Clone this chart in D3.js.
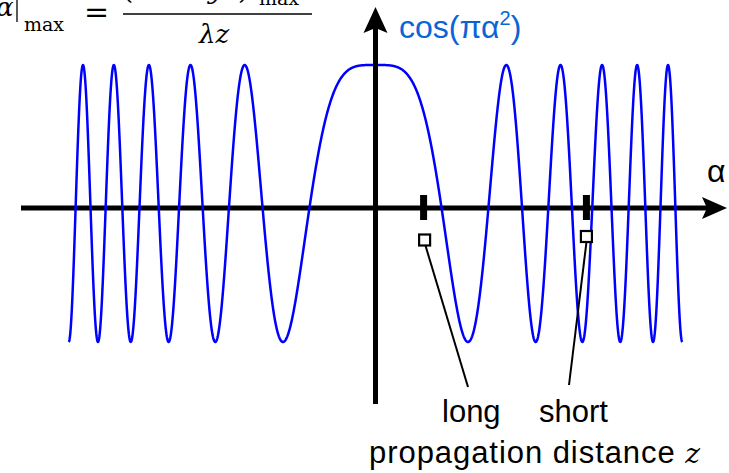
<!DOCTYPE html>
<html>
<head>
<meta charset="utf-8">
<script src="https://cdn.jsdelivr.net/npm/d3@7"></script>
<style>
  html, body { margin: 0; padding: 0; background: #fff; }
  svg { display: block; }
  .sans { font-family: "Liberation Sans", Arial, sans-serif; }
  .serif { font-family: "DejaVu Serif", "Liberation Serif", serif; }
</style>
</head>
<body>
<svg id="chart" width="729" height="473"></svg>
<script>
// Domain of the chirp cos(πα²): from the 11th trough on the left to the 11th on the right
const alphaDomain = [-3.3166, 3.3166];
const valueDomain = [-1, 1];
// Where the maximum α lands for the two propagation distances
const zLabels = ["long", "short"];
const zAlphaMax = [0.52, 2.28];
// Axis captions
const curveLabel = ["cos(πα", "2", ")"];
const axisLabel = "α";
const distanceLabel = ["propagation distance ", "z"];

const svg = d3.select("#chart");

const x = d3.scaleLinear().domain(alphaDomain).range([68.7, 682.3]);
const y = d3.scaleLinear().domain(valueDomain).range([342, 65]);

const axisY = 208, axisX = x(0);

// Curve samples along α
const step = (alphaDomain[1] - alphaDomain[0]) / 1600;
const samples = d3.range(alphaDomain[0], alphaDomain[1] + step / 2, step)
  .map(a => ({ a, v: Math.cos(Math.PI * a * a) }));

// horizontal α axis with arrow
svg.append("line")
  .attr("x1", 21).attr("x2", 708)
  .attr("y1", axisY).attr("y2", axisY)
  .attr("stroke", "#000").attr("stroke-width", 5);
svg.append("path")
  .attr("d", `M727,${axisY} L702,${axisY - 11} L707,${axisY} L702,${axisY + 11} Z`)
  .attr("fill", "#000");

// the chirp
svg.append("path")
  .datum(samples)
  .attr("fill", "none")
  .attr("stroke", "#0000ff")
  .attr("stroke-width", 2.5)
  .attr("stroke-linejoin", "round")
  .attr("d", d3.line().x(d => x(d.a)).y(d => y(d.v)));

// vertical axis with arrow
svg.append("line")
  .attr("x1", axisX).attr("x2", axisX)
  .attr("y1", 404).attr("y2", 28)
  .attr("stroke", "#000").attr("stroke-width", 5);
svg.append("path")
  .attr("d", `M${axisX},7 L${axisX - 12},33 L${axisX},28 L${axisX + 12},33 Z`)
  .attr("fill", "#000");

// α|max markers with leader lines
const markerY = [240, 236.5];
const labelAnchor = [[468, 387], [569, 385]];
zAlphaMax.forEach((am, i) => {
  const cx = x(am);
  svg.append("rect")
    .attr("x", cx - 3.5).attr("y", axisY - 13)
    .attr("width", 7).attr("height", 25)
    .attr("fill", "#000");
  svg.append("line")
    .attr("x1", cx + (i === 0 ? 2 : 0)).attr("y1", markerY[i] + 6)
    .attr("x2", labelAnchor[i][0]).attr("y2", labelAnchor[i][1])
    .attr("stroke", "#000").attr("stroke-width", 2);
  svg.append("rect")
    .attr("x", cx + (i === 0 ? 1 : 0) - 5.5).attr("y", markerY[i] - 5.5)
    .attr("width", 11).attr("height", 11)
    .attr("fill", "#fff").attr("stroke", "#000").attr("stroke-width", 2.2);
});

// text labels
svg.append("text").attr("class", "sans")
  .attr("x", 442).attr("y", 422).attr("font-size", 31).attr("fill", "#000")
  .text(zLabels[0]);
svg.append("text").attr("class", "sans")
  .attr("x", 539).attr("y", 422).attr("font-size", 31).attr("fill", "#000")
  .text(zLabels[1]);

const dist = svg.append("text").attr("class", "sans")
  .attr("x", 369).attr("y", 463).attr("font-size", 31).attr("fill", "#000")
  .attr("textLength", 331).attr("lengthAdjust", "spacing");
dist.append("tspan").text(distanceLabel[0]);
dist.append("tspan").attr("class", "serif").attr("font-style", "italic")
  .attr("font-size", 28).text(distanceLabel[1]);

svg.append("text").attr("class", "sans")
  .attr("x", 707).attr("y", 182).attr("font-size", 32).attr("fill", "#000")
  .text(axisLabel);

const cl = svg.append("text").attr("class", "sans")
  .attr("x", 399).attr("y", 38).attr("font-size", 32).attr("fill", "#0a64d6");
cl.append("tspan").text(curveLabel[0]);
cl.append("tspan").attr("font-size", 20).attr("dy", -13).text(curveLabel[1]);
cl.append("tspan").attr("dy", 13).text(curveLabel[2]);

// formula in the top-left corner, partly above the frame
const f = svg.append("g").attr("class", "serif").attr("fill", "#000");
f.append("text").attr("x", -4).attr("y", 16).attr("font-size", 26)
  .attr("font-style", "italic").text("α");
f.append("line").attr("x1", 17).attr("x2", 17).attr("y1", -2).attr("y2", 22)
  .attr("stroke", "#000").attr("stroke-width", 1.3);
f.append("text").attr("x", 24).attr("y", 31).attr("font-size", 19).text("max");
f.append("text").attr("x", 84).attr("y", 22).attr("font-size", 30).text("=");
f.append("text").attr("x", 123).attr("y", -1).attr("font-size", 26).text("(");
f.append("text").attr("x", 208).attr("y", -1).attr("font-size", 26)
  .attr("font-style", "italic").text("y");
f.append("text").attr("x", 238).attr("y", -1).attr("font-size", 26).text(")");
f.append("text").attr("x", 259).attr("y", 5).attr("font-size", 19).text("max");
f.append("line").attr("x1", 123).attr("x2", 312).attr("y1", 14).attr("y2", 14)
  .attr("stroke", "#000").attr("stroke-width", 1.3);
f.append("text").attr("x", 199).attr("y", 43).attr("font-size", 26)
  .attr("font-style", "italic").text("λz");
</script>
</body>
</html>
